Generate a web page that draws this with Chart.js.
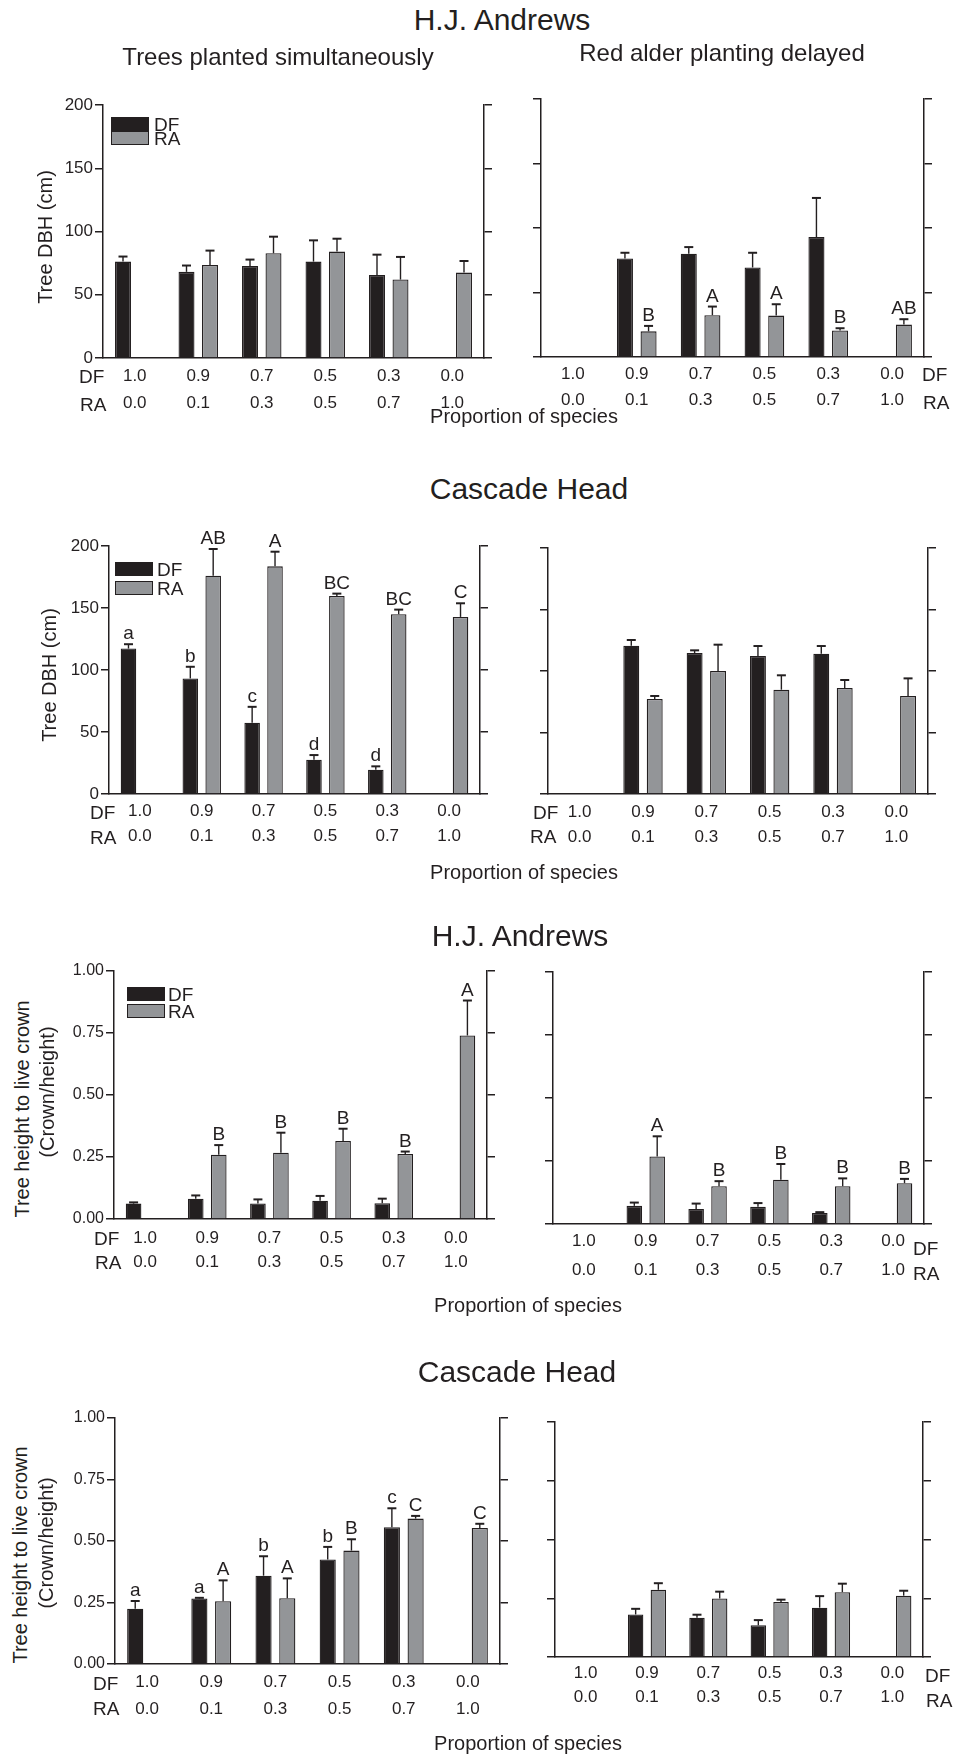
<!DOCTYPE html>
<html><head><meta charset="utf-8">
<script src="https://cdn.jsdelivr.net/npm/chart.js@4.4.1/dist/chart.umd.min.js"></script>
<style>
html,body{margin:0;padding:0;background:#fff}
body{width:954px;height:1756px;position:relative;overflow:hidden;font-family:"Liberation Sans",Arial,Helvetica,sans-serif;color:#231f20}
.t{position:absolute;white-space:nowrap;line-height:1}
canvas{position:absolute}
.sw{position:absolute;box-sizing:border-box;border:1.3px solid #231f20}
</style></head><body>
<script>
// ---- category tick labels (proportion of species) ----
const dfProportion = ['1.0','0.9','0.7','0.5','0.3','0.0'];
const raProportion = ['0.0','0.1','0.3','0.5','0.7','1.0'];

// ---- H.J. Andrews, DBH (cm), planted simultaneously ----
const hjaDbhSimDF   = [76.2, 68.1, 72.8, 76.2, 65.7, null];
const hjaDbhSimDFse = [4.0, 5.0, 5.0, 16.8, 16.0, null];
const hjaDbhSimRA   = [0, 73.6, 82.8, 84.1, 62.0, 67.5];
const hjaDbhSimRAse = [null, 11.3, 13.1, 10.2, 17.9, 9.2];

// ---- H.J. Andrews, DBH (cm), red alder delayed ----
const hjaDbhDelDF   = [0, 76.4, 80.1, 69.4, 93.0, null];
const hjaDbhDelDFse = [null, 4.4, 5.1, 11.4, 30.3, null];
const hjaDbhDelRA   = [0, 19.9, 32.4, 32.1, 20.5, 25.1];
const hjaDbhDelRAse = [null, 4.2, 6.7, 8.8, 1.8, 4.2];
const hjaDbhDelRAletters = [null, 'B', 'A', 'A', 'B', 'AB'];

// ---- Cascade Head, DBH (cm), planted simultaneously ----
const chDbhSimDF   = [117.3, 93.2, 57.4, 27.7, 19.6, null];
const chDbhSimDFse = [3.5, 9.4, 12.9, 3.7, 2.7, null];
const chDbhSimDFletters = ['a', 'b', 'c', 'd', 'd', null];
const chDbhSimRA   = [0, 176.1, 183.6, 159.7, 145.0, 142.8];
const chDbhSimRAse = [null, 21.5, 11.8, 1.9, 3.7, 11.0];
const chDbhSimRAletters = [null, 'AB', 'A', 'BC', 'BC', 'C'];

// ---- Cascade Head, DBH (cm), red alder delayed ----
const chDbhDelDF   = [0, 120.6, 114.6, 112.2, 114.1, null];
const chDbhDelDFse = [null, 4.6, 2.2, 8.1, 6.2, null];
const chDbhDelRA   = [0, 77.2, 100.0, 84.8, 86.2, 79.7];
const chDbhDelRAse = [null, 2.5, 21.4, 11.7, 6.5, 14.3];

// ---- H.J. Andrews, crown ratio, planted simultaneously ----
const hjaCrSimDF   = [0.062, 0.082, 0.063, 0.074, 0.064, null];
const hjaCrSimDFse = [0.005, 0.013, 0.016, 0.019, 0.018, null];
const hjaCrSimRA   = [0, 0.259, 0.267, 0.315, 0.262, 0.740];
const hjaCrSimRAse = [null, 0.039, 0.081, 0.049, 0.010, 0.141];
const hjaCrSimRAletters = [null, 'B', 'B', 'B', 'B', 'A'];

// ---- H.J. Andrews, crown ratio, red alder delayed ----
const hjaCrDelDF   = [0, 0.072, 0.060, 0.068, 0.044, null];
const hjaCrDelDFse = [null, 0.013, 0.021, 0.015, 0.003, null];
const hjaCrDelRA   = [0, 0.268, 0.150, 0.176, 0.150, 0.162];
const hjaCrDelRAse = [null, 0.080, 0.020, 0.062, 0.031, 0.017];
const hjaCrDelRAletters = [null, 'A', 'B', 'B', 'B', 'B'];

// ---- Cascade Head, crown ratio, planted simultaneously ----
const chCrSimDF   = [0.225, 0.266, 0.359, 0.425, 0.556, null];
const chCrSimDFse = [0.031, 0.003, 0.079, 0.051, 0.077, null];
const chCrSimDFletters = ['a', 'a', 'b', 'b', 'c', null];
const chCrSimRA   = [0, 0.255, 0.267, 0.461, 0.591, 0.553];
const chCrSimRAse = [null, 0.085, 0.081, 0.046, 0.011, 0.017];
const chCrSimRAletters = [null, 'A', 'A', 'B', 'C', 'C'];

// ---- Cascade Head, crown ratio, red alder delayed ----
const chCrDelDF   = [0, 0.181, 0.167, 0.135, 0.210, null];
const chCrDelDFse = [null, 0.024, 0.013, 0.022, 0.049, null];
const chCrDelRA   = [0, 0.286, 0.249, 0.234, 0.276, 0.261];
const chCrDelRAse = [null, 0.028, 0.029, 0.010, 0.036, 0.021];

const INK = '#231f20';
const GREY = '#939598';
const FONT = '"Liberation Sans", Arial, Helvetica, sans-serif';

function addText(txt, x, y, size, mode, rot) {
  const d = document.createElement('div');
  d.className = 't';
  d.textContent = txt;
  d.style.fontSize = size + 'px';
  d.style.left = x + 'px';
  d.style.top = y + 'px';
  if (rot) d.style.transform = 'translate(-50%,-50%) rotate(-90deg)';
  else if (mode === 'left') d.style.transform = 'translateY(-50%)';
  else d.style.transform = 'translate(-50%,-50%)';
  document.body.appendChild(d);
}
function addSwatch(x, y, w, h, fill) {
  const d = document.createElement('div');
  d.className = 'sw';
  Object.assign(d.style, {left: x + 'px', top: y + 'px', width: w + 'px', height: h + 'px', background: fill});
  document.body.appendChild(d);
}

const errPlugin = {
  id: 'errbars',
  afterDatasetsDraw(chart) {
    const ctx = chart.ctx;
    const ys = chart.scales.y;
    chart.data.datasets.forEach((ds, i) => {
      const meta = chart.getDatasetMeta(i);
      meta.data.forEach((bar, j) => {
        const v = ds.data[j];
        if (v == null) return;
        let top = ys.getPixelForValue(v);
        const se = ds.se ? ds.se[j] : null;
        if (se != null && se > 0) {
          const yt = ys.getPixelForValue(v + se);
          ctx.save();
          ctx.strokeStyle = INK;
          ctx.lineWidth = 1.4;
          ctx.beginPath(); ctx.moveTo(bar.x, top); ctx.lineTo(bar.x, yt); ctx.stroke();
          ctx.lineWidth = 2;
          ctx.beginPath(); ctx.moveTo(bar.x - 4.5, yt); ctx.lineTo(bar.x + 4.5, yt); ctx.stroke();
          ctx.restore();
          top = yt;
        }
        const lt = ds.letters ? ds.letters[j] : null;
        if (lt) {
          ctx.save();
          ctx.fillStyle = INK;
          ctx.font = '19px ' + FONT;
          ctx.textAlign = 'center';
          ctx.textBaseline = 'alphabetic';
          ctx.fillText(lt, bar.x, top - 5);
          ctx.restore();
        }
      });
    });
  }
};

function makePanel(p) {
  const padL = p.yLabels ? 75 : 20, padR = 14, padT = 40, padB = 72;
  const W = p.R - p.L + padL + padR, H = p.B - p.T + padT + padB;
  const c = document.createElement('canvas');
  c.width = W; c.height = H;
  c.style.left = (p.L - padL) + 'px';
  c.style.top = (p.T - padT) + 'px';
  c.style.width = W + 'px'; c.style.height = H + 'px';
  document.body.appendChild(c);
  const labels = dfProportion.map((d, i) => [d, raProportion[i]]);
  new Chart(c.getContext('2d'), {
    type: 'bar',
    data: {
      labels,
      datasets: [
        {label: 'DF', data: p.df, se: p.dfse, letters: p.dfLet || null,
         backgroundColor: INK, borderColor: INK, borderWidth: 1.3,
         categoryPercentage: 0.74, barPercentage: 0.68},
        {label: 'RA', data: p.ra, se: p.rase, letters: p.raLet || null,
         backgroundColor: GREY, borderColor: INK, borderWidth: 1.3,
         categoryPercentage: 0.74, barPercentage: 0.68}
      ]
    },
    options: {
      responsive: false, animation: false, devicePixelRatio: 1,
      layout: {padding: {top: padT, left: 0, right: 0, bottom: 0}},
      plugins: {legend: {display: false}, tooltip: {enabled: false}, title: {display: false}},
      scales: {
        x: {
          type: 'category', offset: true,
          grid: {display: false, drawTicks: false},
          border: {display: true, color: INK, width: 1.5},
          ticks: {autoSkip: false, maxRotation: 0, minRotation: 0, padding: p.pad, color: INK,
                  font: {family: FONT, size: 17, lineHeight: p.lh + 'px'}},
          afterFit: s => { s.height = padB; }
        },
        y: {
          position: 'left', min: 0, max: p.max,
          grid: {display: true, drawOnChartArea: false, drawTicks: true, tickLength: 8, color: INK, lineWidth: 1.5},
          border: {display: true, color: INK, width: 1.5},
          ticks: {display: p.yLabels, stepSize: p.step, padding: 2, color: INK,
                  font: {family: FONT, size: p.max === 1 ? 16 : 17},
                  callback: v => p.max === 1 ? Number(v).toFixed(2) : String(v)},
          afterFit: s => { s.width = padL; }
        },
        yR: {
          position: 'right', min: 0, max: p.max,
          grid: {display: true, drawOnChartArea: false, drawTicks: true, tickLength: 8, color: INK, lineWidth: 1.5},
          border: {display: true, color: INK, width: 1.5},
          ticks: {display: false, stepSize: p.step},
          afterFit: s => { s.width = padR; }
        }
      }
    },
    plugins: [errPlugin]
  });
}

const panels = [
  {L:103, R:484, T:105, B:358, max:200, step:50, yLabels:true, lh:27, pad:5,
   df:hjaDbhSimDF, dfse:hjaDbhSimDFse, ra:hjaDbhSimRA, rase:hjaDbhSimRAse},
  {L:541, R:924, T:99, B:357, max:200, step:50, yLabels:false, lh:26, pad:4,
   df:hjaDbhDelDF, dfse:hjaDbhDelDFse, ra:hjaDbhDelRA, rase:hjaDbhDelRAse, raLet:hjaDbhDelRAletters},
  {L:109, R:480, T:546, B:794, max:200, step:50, yLabels:true, lh:25, pad:5,
   df:chDbhSimDF, dfse:chDbhSimDFse, dfLet:chDbhSimDFletters, ra:chDbhSimRA, rase:chDbhSimRAse, raLet:chDbhSimRAletters},
  {L:548, R:928, T:548, B:794, max:200, step:50, yLabels:false, lh:25, pad:5.5,
   df:chDbhDelDF, dfse:chDbhDelDFse, ra:chDbhDelRA, rase:chDbhDelRAse},
  {L:114, R:487, T:971, B:1219, max:1, step:0.25, yLabels:true, lh:24, pad:7,
   df:hjaCrSimDF, dfse:hjaCrSimDFse, ra:hjaCrSimRA, rase:hjaCrSimRAse, raLet:hjaCrSimRAletters},
  {L:553, R:924, T:972, B:1224, max:1, step:0.25, yLabels:false, lh:29, pad:3,
   df:hjaCrDelDF, dfse:hjaCrDelDFse, ra:hjaCrDelRA, rase:hjaCrDelRAse, raLet:hjaCrDelRAletters},
  {L:115, R:500, T:1418, B:1664, max:1, step:0.25, yLabels:true, lh:27, pad:4.5,
   df:chCrSimDF, dfse:chCrSimDFse, dfLet:chCrSimDFletters, ra:chCrSimRA, rase:chCrSimRAse, raLet:chCrSimRAletters},
  {L:555, R:923, T:1422, B:1657, max:1, step:0.25, yLabels:false, lh:24, pad:4.5,
   df:chCrDelDF, dfse:chCrDelDFse, ra:chCrDelRA, rase:chCrDelRAse}
];
panels.forEach(makePanel);

// ---- titles ----
addText('H.J. Andrews', 502, 20, 30);
addText('Trees planted simultaneously', 278, 57, 24);
addText('Red alder planting delayed', 722, 53, 24);
addText('Cascade Head', 529, 489, 30);
addText('H.J. Andrews', 520, 936, 30);
addText('Cascade Head', 517, 1372, 30);
addText('Proportion of species', 524, 416, 20);
addText('Proportion of species', 524, 872, 20);
addText('Proportion of species', 528, 1305, 20);
addText('Proportion of species', 528, 1743, 20);

// ---- y-axis titles ----
addText('Tree DBH (cm)', 45, 237, 20, null, true);
addText('Tree DBH (cm)', 49, 675, 20, null, true);
addText('Tree height to live crown', 22, 1109, 20, null, true);
addText('(Crown/height)', 47, 1092, 20, null, true);
addText('Tree height to live crown', 20, 1555, 20, null, true);
addText('(Crown/height)', 46, 1543, 20, null, true);

// ---- species row labels beside the x tick rows ----
addText('DF', 79, 376, 19, 'left');  addText('RA', 80, 404, 19, 'left');
addText('DF', 922, 374, 19, 'left'); addText('RA', 923, 402, 19, 'left');
addText('DF', 90, 812, 19, 'left');  addText('RA', 90, 837, 19, 'left');
addText('DF', 533, 812, 19, 'left'); addText('RA', 530, 836, 19, 'left');
addText('DF', 94, 1238, 19, 'left'); addText('RA', 95, 1262, 19, 'left');
addText('DF', 913, 1248, 19, 'left'); addText('RA', 913, 1273, 19, 'left');
addText('DF', 93, 1683, 19, 'left'); addText('RA', 93, 1708, 19, 'left');
addText('DF', 925, 1675, 19, 'left'); addText('RA', 926, 1700, 19, 'left');

// ---- legends ----
[[111, 117, 131, 154], [115, 562, 581, 157], [127, 987, 1004, 168]].forEach(([x, y1, y2, tx]) => {
  addSwatch(x, y1, 38, 14, INK);
  addSwatch(x, y2, 38, 14, GREY);
  addText('DF', tx, y1 + 7, 19, 'left');
  addText('RA', tx, y2 + 7, 19, 'left');
});
</script>
</body></html>
